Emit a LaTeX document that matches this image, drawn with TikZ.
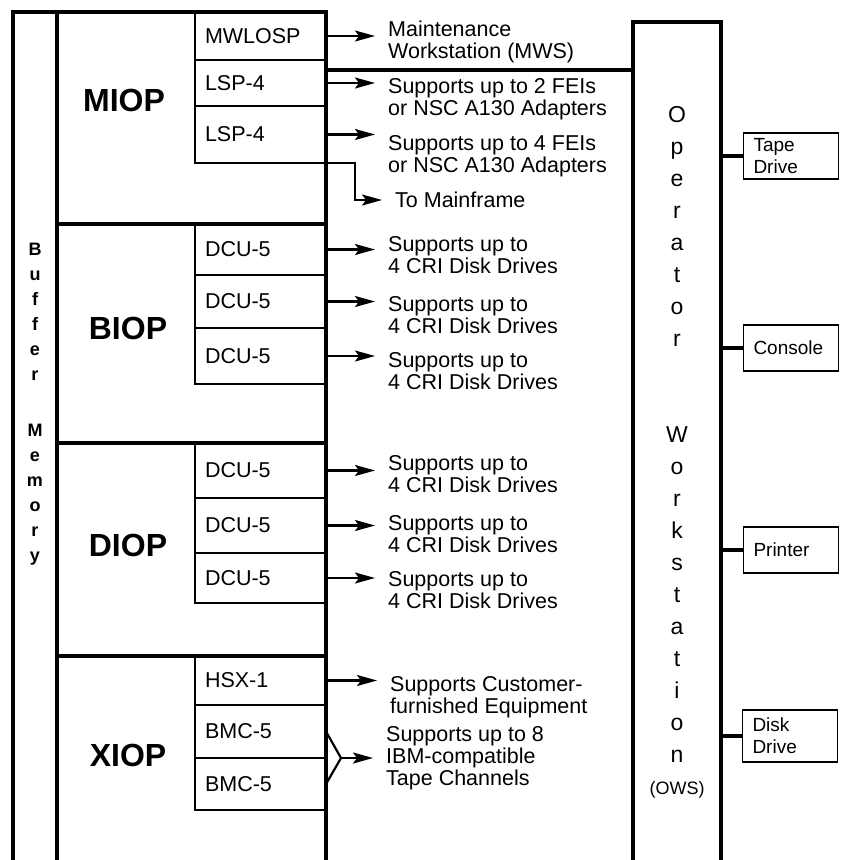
\documentclass[tikz,border=0pt]{standalone}
\usepackage{fontspec}
\setmainfont{Liberation Sans}
\usetikzlibrary{arrows.meta}

\begin{document}
\begin{tikzpicture}[x=1pt, y=-1pt, >={Stealth[length=20pt, width=11pt, inset=4pt]},
  heavy/.style={line width=4.2pt},
  subbox/.style={draw, line width=1.8pt, anchor=north west, text width=111pt, inner xsep=10pt, inner ysep=0pt, outer sep=0pt, align=left, font=\fontsize{21.5}{21}\selectfont},
  iop/.style={font=\fontsize{32}{32}\selectfont\bfseries},
  desc/.style={anchor=west, align=left, inner sep=0pt, font=\fontsize{21.5}{22}\selectfont},
  feed/.style={->, line width=2.2pt, shorten >=13pt},
  device/.style={draw, line width=1.8pt, minimum height=46pt, text width=75pt, inner xsep=10pt, align=left, font=\fontsize{19}{22}\selectfont}]
  \useasboundingbox (0,0) rectangle (841,860);

  % Khung IOP va Buffer Memory
  \draw[heavy] (13,860) -- (13,12) -- (326,12) -- (326,860);
  \draw[heavy] (57,12) -- (57,860);
  \draw[heavy] (57,224) -- (326,224);
  \draw[heavy] (57,443) -- (326,443);
  \draw[heavy] (57,656) -- (326,656);
  \node[anchor=north, align=center, inner sep=0pt, font=\fontsize{18}{25}\selectfont\bfseries] (buf) at (35,243)
    {B\\u\\f\\f\\e\\r\\[31pt]M\\e\\m\\o\\r\\y};

  % MIOP
  \node[iop] (miop) at (124,100) {MIOP};
  \node[subbox, minimum height=48pt] (mwlosp) at (195,12) {MWLOSP};
  \node[subbox, minimum height=46pt] (lspa) at (195,60) {LSP-4};
  \node[subbox, minimum height=57pt] (lspb) at (195,106) {LSP-4};

  % BIOP
  \node[iop] (biop) at (128,328) {BIOP};
  \node[subbox, minimum height=51pt] (dcua) at (195,224) {DCU-5};
  \node[subbox, minimum height=53pt] (dcub) at (195,275) {DCU-5};
  \node[subbox, minimum height=56pt] (dcuc) at (195,328) {DCU-5};

  % DIOP
  \node[iop] (diop) at (128,545) {DIOP};
  \node[subbox, minimum height=55pt] (dcud) at (195,443) {DCU-5};
  \node[subbox, minimum height=55pt] (dcue) at (195,498) {DCU-5};
  \node[subbox, minimum height=50pt] (dcuf) at (195,553) {DCU-5};

  % XIOP
  \node[iop] (xiop) at (128,755) {XIOP};
  \node[subbox, minimum height=49pt] (hsx) at (195,656) {HSX-1};
  \node[subbox, minimum height=53pt] (bmca) at (195,705) {BMC-5};
  \node[subbox, minimum height=52pt] (bmcb) at (195,758) {BMC-5};

  % Mo ta
  \node[desc] (mwst) at (388,42) {Maintenance\\Workstation (MWS)};
  \node[desc] (lspat) at (388,99) {Supports up to 2 FEIs\\or NSC A130 Adapters};
  \node[desc] (lspbt) at (388,156) {Supports up to 4 FEIs\\or NSC A130 Adapters};
  \node[desc] (mainf) at (395,200) {To Mainframe};
  \node[desc] (dcuat) at (388,255) {Supports up to\\4 CRI Disk Drives};
  \node[desc] (dcubt) at (388,315) {Supports up to\\4 CRI Disk Drives};
  \node[desc] (dcuct) at (388,371) {Supports up to\\4 CRI Disk Drives};
  \node[desc] (dcudt) at (388,474) {Supports up to\\4 CRI Disk Drives};
  \node[desc] (dcuet) at (388,534) {Supports up to\\4 CRI Disk Drives};
  \node[desc] (dcuft) at (388,590) {Supports up to\\4 CRI Disk Drives};
  \node[desc] (hsxt) at (390,697) {Supports Customer-\\furnished Equipment};
  \node[desc] (bmct) at (386,758) {Supports up to 8\\IBM-compatible\\Tape Channels};

  % Mui ten
  \foreach \src/\dst in {mwlosp/mwst, lspa/lspat, lspb/lspbt, dcua/dcuat, dcub/dcubt, dcuc/dcuct, dcud/dcudt, dcue/dcuet, dcuf/dcuft, hsx/hsxt}
    \draw[feed] (\src) -- (\src -| \dst.west);
  \draw[feed] (lspb.south east) -- ++(29,0) |- (mainf);
  \coordinate (fork) at (341,758);
  \draw[line width=2.2pt] (bmca.east) -- (fork) -- (bmcb.east);
  \draw[feed] (fork) -- (fork -| bmct.west);

  % Operator Workstation
  \draw[heavy] (633,860) -- (633,22) -- (721,22) -- (721,860);
  \coordinate (owsL) at (633,70);
  \coordinate (owsR) at (721,0);
  \draw[line width=3.5pt] (owsL -| lspa.east) -- (owsL);
  \node[anchor=north, align=center, inner sep=0pt, font=\fontsize{23}{32}\selectfont] (ows) at (677,106)
    {O\\p\\e\\r\\a\\t\\o\\r\\[64pt]W\\o\\r\\k\\s\\t\\a\\t\\i\\o\\n\\{\fontsize{18}{32}\selectfont(OWS)}};

  % Thiet bi
  \node[device] (tape) at (791,156) {Tape\\Drive};
  \node[device] (cons) at (791,348) {Console};
  \node[device] (prnt) at (791,550) {Printer};
  \node[device, minimum height=52pt] (disk) at (790,736) {Disk\\Drive};
  \foreach \dev in {tape, cons, prnt, disk}
    \draw[heavy] (\dev) -- (\dev -| owsR);
\end{tikzpicture}
\end{document}
